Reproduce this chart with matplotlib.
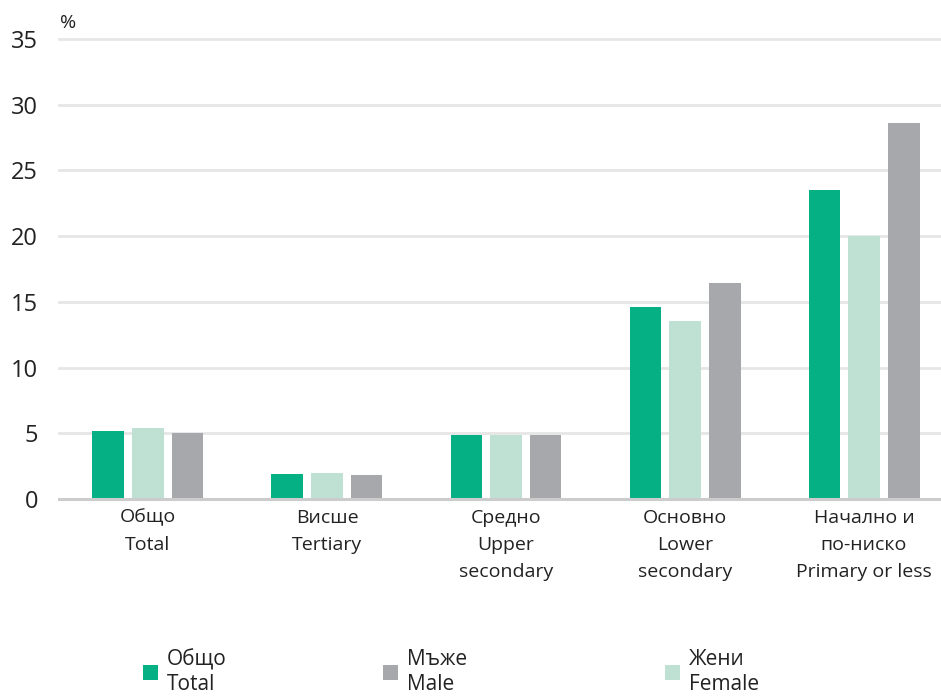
import matplotlib
matplotlib.use("Agg")
import matplotlib.pyplot as plt
from matplotlib.patches import Patch
import numpy as np

plt.rcParams['font.family'] = ['Open Sans', 'DejaVu Sans']

categories = ["Общо\nTotal", "Висше\nTertiary", "Средно\nUpper\nsecondary",
              "Основно\nLower\nsecondary", "Начално и\nпо-ниско\nPrimary or less"]
total = [5.2, 1.9, 4.9, 14.6, 23.5]
female = [5.4, 1.95, 4.9, 13.55, 20.0]
male = [5.0, 1.85, 4.85, 16.4, 28.6]
series_labels = ["Общо\nTotal", "Мъже\nMale", "Жени\nFemale"]
yticks = [0, 5, 10, 15, 20, 25, 30, 35]

c_total = "#06B085"
c_female = "#BEE1D4"
c_male = "#A7A8AB"

fig = plt.figure(figsize=(9.41, 6.96), dpi=100)
ax = fig.add_axes([59/941, 1-499/696, (941-59)/941, (499-39)/696])

x = np.arange(len(categories))
w = 0.176
off = 0.222
ax.bar(x - off, total, w, color=c_total, zorder=3)
ax.bar(x, female, w, color=c_female, zorder=3)
ax.bar(x + off, male, w, color=c_male, zorder=3)

ax.set_xlim(-0.497, 4.43)
ax.set_ylim(0, 35)
ax.set_yticks(yticks)
ax.set_xticks(x)
ax.tick_params(axis="both", length=0)
ax.tick_params(axis="y", pad=15)
ax.set_yticklabels([str(t) for t in yticks], fontsize=17, color="#222222")
ax.set_xticklabels([])
for xi, lab in zip(x, categories):
    ax.annotate(lab, xy=(xi, 0), xycoords=("data", "axes fraction"),
                xytext=(0, -7), textcoords="offset points",
                ha="center", va="top", fontsize=14, color="#222222",
                linespacing=1.67, annotation_clip=False)
for s in ax.spines.values():
    s.set_visible(False)
for t in yticks[1:]:
    ax.axhline(t, color="#E6E6E6", lw=2, zorder=1, clip_on=False)
ax.axhline(0, color="#CCCCCC", lw=2.2, zorder=4, clip_on=False)

ax.text(60/941, 1-23/696, "%", transform=fig.transFigure, fontsize=14,
        ha="left", va="center", color="#222222")

# legend: three single-entry legends
colors = [c_total, c_male, c_female]
xs = [143, 383, 665]
for lab, col, xp in zip(series_labels, colors, xs):
    lg = fig.legend(handles=[Patch(facecolor=col, edgecolor="none")], labels=[lab],
                    loc="center left", bbox_to_anchor=(xp/941, 1-672/696),
                    frameon=False, fontsize=15, handlelength=0.7, handleheight=0.75,
                    handletextpad=0.45, borderpad=0, borderaxespad=0, labelspacing=0)
    for t in lg.get_texts():
        t.set_linespacing(1.22)
        t.set_color("#222222")

fig.savefig("out.png", dpi=100)
